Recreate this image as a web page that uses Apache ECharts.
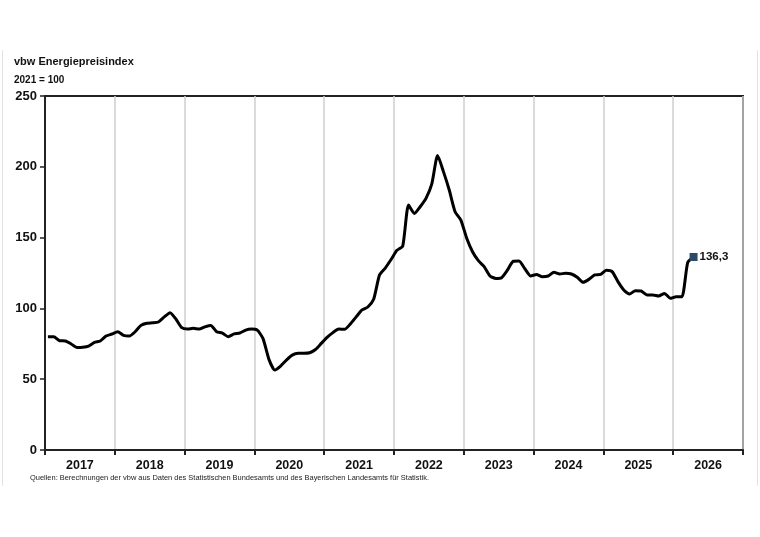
<!DOCTYPE html>
<html>
<head>
<meta charset="utf-8">
<title>vbw Energiepreisindex</title>
<script src="https://cdn.jsdelivr.net/npm/echarts@6/dist/echarts.min.js"></script>
<style>
    html, body { margin: 0; padding: 0; background: #fff; }
    #chart { width: 760px; height: 537px; }
</style>
</head>
<body>
<div id="chart"></div>
<script>

    // Jahre auf der x-Achse
    var years = ['2017', '2018', '2019', '2020', '2021', '2022', '2023', '2024', '2025', '2026'];

    // Index 2021 = 100, monatlich ab Jan 2017
    var v2017 = [80, 80, 77.2, 77, 74.9, 72.3, 72.5, 73.4, 76, 77, 80.5, 81.9];
    var v2018 = [83.5, 81, 80.5, 83.5, 88, 89.5, 89.8, 90.4, 94, 97, 92.5, 86.4];
    var v2019 = [85.4, 86, 85.4, 87, 88, 83.5, 82.6, 80, 82, 82.6, 84.7, 85.4];
    var v2020 = [84.6, 78.5, 64, 56.5, 59.3, 63.5, 67, 68.3, 68.3, 68.7, 71, 75.3];
    var v2021 = [79.6, 82.9, 85.4, 85.2, 89, 94, 98.9, 101, 106.4, 123.5, 128.5, 134.5];
    var v2022 = [141, 144, 173, 167, 171.8, 177.7, 188, 208, 196.6, 183.6, 168.3, 162.4];
    var v2023 = [149.5, 140, 133.7, 129.5, 122.9, 121.2, 121.7, 127, 133.3, 133.5, 128, 122.9];
    var v2024 = [124, 122.4, 122.9, 125.5, 124.3, 124.8, 124.3, 122, 118.4, 120.5, 123.6, 124];
    var v2025 = [127, 126, 118.9, 113, 110.2, 112.5, 112.3, 109.5, 109.5, 108.8, 110.6, 107.1];
    var v2026 = [108.3, 108.3, 132.5, 136.3];

    var values = [].concat(v2017, v2018, v2019, v2020, v2021, v2022, v2023, v2024, v2025, v2026);

    // Monatskategorien fuer die Datenachse
    var months = [];
    years.forEach(function (y) {
        for (var m = 1; m <= 12; m++) {
            months.push(y + '-' + (m < 10 ? '0' + m : m));
        }
    });

    var lastIndex = values.length - 1;
    var lastLabel = String(values[lastIndex]).replace('.', ',');

    var chart = echarts.init(document.getElementById('chart'));

    var option = {
        backgroundColor: '#fff',
        animation: false,
        textStyle: {
            fontFamily: 'Liberation Sans'
        },
        title: [
            {
                text: 'vbw Energiepreisindex',
                left: 14,
                top: 56,
                padding: 0,
                textStyle: { fontSize: 11, fontWeight: 'bold', color: '#111' }
            },
            {
                text: '2021 = 100',
                left: 14,
                top: 75,
                padding: 0,
                textStyle: { fontSize: 10, fontWeight: 'bold', color: '#111' }
            },
            {
                text: 'Quellen: Berechnungen der vbw aus Daten des Statistischen Bundesamts und des Bayerischen Landesamts für Statistik.',
                left: 30,
                top: 474,
                padding: 0,
                textStyle: { fontSize: 7.45, fontWeight: 'normal', color: '#222' }
            }
        ],
        graphic: [
            {
                type: 'line',
                shape: { x1: 2.5, y1: 50, x2: 2.5, y2: 486 },
                style: { stroke: '#e2e2e2', lineWidth: 1 }
            },
            {
                type: 'line',
                shape: { x1: 757.5, y1: 50, x2: 757.5, y2: 486 },
                style: { stroke: '#e2e2e2', lineWidth: 1 }
            }
        ],
        grid: {
            left: 45,
            right: 17,
            top: 96,
            bottom: 87,
            show: true,
            borderColor: '#222',
            borderWidth: 2,
            backgroundColor: 'transparent'
        },
        xAxis: [
            {
                type: 'category',
                data: years,
                boundaryGap: true,
                position: 'bottom',
                axisLine: { lineStyle: { color: '#222', width: 2 } },
                axisTick: { show: true, length: 5, lineStyle: { color: '#222', width: 2 } },
                axisLabel: {
                    fontSize: 12.5,
                    fontWeight: 'bold',
                    color: '#111',
                    margin: 9
                },
                splitLine: { show: true, lineStyle: { color: '#cfcfcf', width: 1.5 } }
            },
            {
                type: 'category',
                data: months,
                boundaryGap: true,
                show: false
            }
        ],
        yAxis: {
            type: 'value',
            min: 0,
            max: 250,
            interval: 50,
            axisLine: { show: true, lineStyle: { color: '#222', width: 2 } },
            axisTick: { show: true, length: 5, lineStyle: { color: '#222', width: 1.5 } },
            axisLabel: {
                fontSize: 13,
                fontWeight: 'bold',
                color: '#111',
                margin: 8
            },
            splitLine: { show: false }
        },
        series: [
            {
                name: 'Energiepreisindex',
                type: 'line',
                xAxisIndex: 1,
                data: values.map(function (v, i) {
                    if (i === lastIndex) {
                        return {
                            value: v,
                            label: {
                                show: true,
                                position: 'right',
                                distance: 2,
                                formatter: lastLabel,
                                fontSize: 11.5,
                                fontWeight: 'bold',
                                color: '#111'
                            }
                        };
                    }
                    return v;
                }),
                showSymbol: true,
                showAllSymbol: true,
                symbol: 'rect',
                symbolSize: function (v, params) {
                    return params.dataIndex === lastIndex ? 8 : 0;
                },
                itemStyle: { color: '#2c4a68' },
                smooth: 0.2,
                lineStyle: { color: '#000', width: 3 }
            }
        ]
    };

    chart.setOption(option);

</script>
</body>
</html>
